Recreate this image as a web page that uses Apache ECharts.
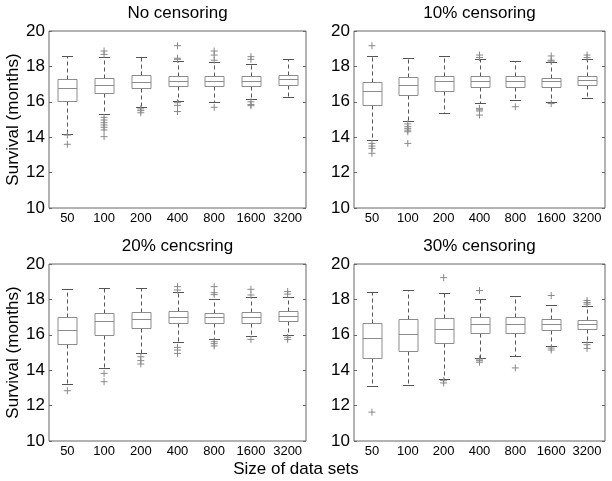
<!DOCTYPE html>
<html><head><meta charset="utf-8">
<script src="https://cdn.jsdelivr.net/npm/echarts@6/dist/echarts.min.js"></script>
<style>html,body{margin:0;padding:0;background:#fff}#c{width:612px;height:481px}</style>
</head><body><div id="c"></div>
<script>
const categories = ['50','100','200','400','800','1600','3200'];
const panelTitles = ['No censoring','10% censoring','20% cencsring','30% censoring'];
const yTicks = [10,12,14,16,18,20];
// [lower whisker, q1, median, q3, upper whisker]
const noCensBox = [[14.2,16.05,16.77,17.3,18.57],[15.3,16.48,16.97,17.32,18.52],[15.69,16.76,17.12,17.5,18.52],[16.05,16.9,17.2,17.48,18.32],[15.97,16.89,17.18,17.46,18.27],[16.14,16.89,17.2,17.46,18.13],[16.25,16.95,17.29,17.53,18.4]];
const noCensOut = [[0,14.12],[0,13.6],[1,18.68],[1,18.87],[1,15.12],[1,14.97],[1,14.82],[1,14.69],[1,14.56],[1,14.41],[1,14.03],[2,15.6],[2,15.5],[2,15.38],[3,19.17],[3,18.46],[3,18.4],[3,15.95],[3,15.8],[3,15.45],[4,18.87],[4,18.64],[4,18.35],[4,15.69],[5,18.55],[5,18.4],[5,16.0],[5,15.85],[5,15.78]];
const cens10Box = [[13.84,15.8,16.63,17.12,18.59],[14.93,16.37,16.95,17.38,18.5],[15.35,16.61,17.18,17.44,18.59],[15.93,16.82,17.2,17.44,18.4],[16.08,16.82,17.18,17.44,18.28],[15.97,16.82,17.18,17.36,18.25],[16.23,16.95,17.23,17.48,18.44]];
const cens10Out = [[0,19.17],[0,13.65],[0,13.5],[0,13.37],[0,13.09],[1,14.75],[1,14.6],[1,14.5],[1,14.4],[1,14.31],[1,13.65],[3,18.64],[3,18.5],[3,15.63],[3,15.55],[3,15.48],[3,15.25],[4,15.72],[5,18.59],[5,18.35],[5,18.3],[5,15.9],[6,18.64],[6,18.5]];
const cens20Box = [[13.2,15.46,16.27,17.02,18.57],[14.1,15.97,16.78,17.25,18.62],[14.95,16.37,16.89,17.31,18.66],[15.57,16.67,17.02,17.36,18.4],[15.78,16.65,17.0,17.25,18.0],[15.95,16.65,17.0,17.27,18.15],[15.99,16.76,17.04,17.34,18.15]];
const cens20Out = [[0,12.84],[1,13.82],[1,13.35],[2,14.76],[2,14.54],[2,14.35],[3,18.72],[3,18.53],[3,15.29],[3,15.14],[3,14.95],[4,18.72],[4,18.38],[4,18.27],[4,15.61],[4,15.5],[4,15.37],[5,18.57],[5,18.25],[5,15.74],[6,18.44],[6,18.3],[6,15.86],[6,15.74]];
const cens30Box = [[13.1,14.69,15.82,16.64,18.44],[13.17,15.1,16.04,16.89,18.52],[13.53,15.53,16.32,16.94,18.35],[14.69,16.1,16.6,17.0,18.01],[14.82,16.1,16.6,17.0,18.22],[15.35,16.29,16.6,16.89,17.69],[15.57,16.34,16.6,16.85,17.6]];
const cens30Out = [[0,11.63],[2,19.23],[2,13.41],[2,13.28],[3,18.5],[3,14.63],[3,14.54],[3,14.45],[4,14.13],[5,18.22],[5,15.25],[5,15.14],[6,17.94],[6,17.82],[6,17.73],[6,15.44],[6,15.23]];

const boxes = [noCensBox, cens10Box, cens20Box, cens30Box];
const outs = [noCensOut, cens10Out, cens20Out, cens30Out];

const grids = [
  {left:49, top:31, width:257, height:177},
  {left:354, top:31, width:251, height:177},
  {left:49, top:264, width:257, height:177},
  {left:354, top:264, width:251, height:177}
];
const FONT = '"Liberation Sans", Arial, sans-serif';
const BOXC = '#8c8c8c', WHC = '#555', FRAME = '#666';

function renderBox(params, api){
  const x = api.value(0);
  const lo = api.coord([x, api.value(1)]);
  const q1 = api.coord([x, api.value(2)]);
  const md = api.coord([x, api.value(3)]);
  const q3 = api.coord([x, api.value(4)]);
  const hi = api.coord([x, api.value(5)]);
  const band = api.size([1,0])[0];
  const bw = Math.round(band*0.52), cw = Math.round(band*0.3);
  const cx = Math.round(lo[0]) + 0.5;
  const r = v => Math.round(v)+0.5;
  const dash = {stroke: WHC, lineWidth:1, lineDash:[4,3], fill:null};
  const solid = {stroke: WHC, lineWidth:1, fill:null};
  return {type:'group', children:[
    {type:'line', shape:{x1:cx,y1:r(q3[1]),x2:cx,y2:r(hi[1])}, style:dash},
    {type:'line', shape:{x1:cx,y1:r(q1[1]),x2:cx,y2:r(lo[1])}, style:dash},
    {type:'line', shape:{x1:cx-cw/2,y1:r(hi[1]),x2:cx+cw/2,y2:r(hi[1])}, style:solid},
    {type:'line', shape:{x1:cx-cw/2,y1:r(lo[1]),x2:cx+cw/2,y2:r(lo[1])}, style:solid},
    {type:'rect', shape:{x:cx-bw/2, y:r(q3[1]), width:bw, height:r(q1[1])-r(q3[1])}, style:{stroke:BOXC, fill:'#fff', lineWidth:1}},
    {type:'line', shape:{x1:cx-bw/2,y1:r(md[1]),x2:cx+bw/2,y2:r(md[1])}, style:{stroke:BOXC,lineWidth:1}}
  ]};
}

const xAxis = [], yAxis = [], series = [];
grids.forEach((g,i)=>{
  g.show = true; g.borderColor = FRAME; g.borderWidth = 1; g.backgroundColor='#fff';
  xAxis.push({type:'category', gridIndex:i, data:categories, boundaryGap:true,
    axisLine:{show:false}, axisTick:{show:false}, splitLine:{show:false},
    axisLabel:{color:'#000', fontSize:13, fontFamily:FONT, margin:4, interval:0}});
  yAxis.push({type:'value', gridIndex:i, min:10, max:20, interval:2,
    axisLine:{show:false}, axisTick:{show:true, inside:true, length:3, lineStyle:{color:FRAME}},
    splitLine:{show:false},
    axisLabel:{color:'#000', fontSize:17, fontFamily:FONT, margin:4,
      formatter: v => yTicks.indexOf(v) >= 0 ? String(v) : ''}});
  yAxis.push({type:'value', gridIndex:i, position:'right', min:10, max:20, interval:2,
    axisLine:{show:false}, axisTick:{show:true, inside:true, length:3, lineStyle:{color:FRAME}},
    splitLine:{show:false}, axisLabel:{show:false}});
  series.push({type:'custom', xAxisIndex:i, yAxisIndex:2*i, renderItem:renderBox,
    encode:{x:0, y:[1,2,3,4,5]},
    data: boxes[i].map((b,k)=>[k].concat(b)), z:2});
  series.push({type:'scatter', xAxisIndex:i, yAxisIndex:2*i,
    symbol:'path://M0,5L10,5M5,0L5,10', symbolSize:7,
    itemStyle:{color:'rgba(0,0,0,0)', borderColor:'#8a8a8a', borderWidth:1, opacity:1},
    data: outs[i], z:3, silent:true});
});

const graphic = [];
const tpos = [[177.5,13],[479.5,13],[177.5,246],[479.5,246]];
panelTitles.forEach((t,i)=>graphic.push({type:'text', x:tpos[i][0], y:tpos[i][1],
  style:{text:t, fill:'#000', font:'17px '+FONT, textAlign:'center', textVerticalAlign:'middle'}}));
[119.5, 352.5].forEach(cy=>graphic.push({type:'text', x:13.5, y:cy, rotation:Math.PI/2,
  style:{text:'Survival (months)', fill:'#000', font:'17px '+FONT, textAlign:'center', textVerticalAlign:'middle'}}));
graphic.push({type:'text', x:296, y:469,
  style:{text:'Size of data sets', fill:'#000', font:'17px '+FONT, textAlign:'center', textVerticalAlign:'middle'}});

const chart = echarts.init(document.getElementById('c'), null, {renderer:'canvas'});
chart.setOption({animation:false, backgroundColor:'#fff', grid:grids, xAxis, yAxis, series, graphic});
</script></body></html>
